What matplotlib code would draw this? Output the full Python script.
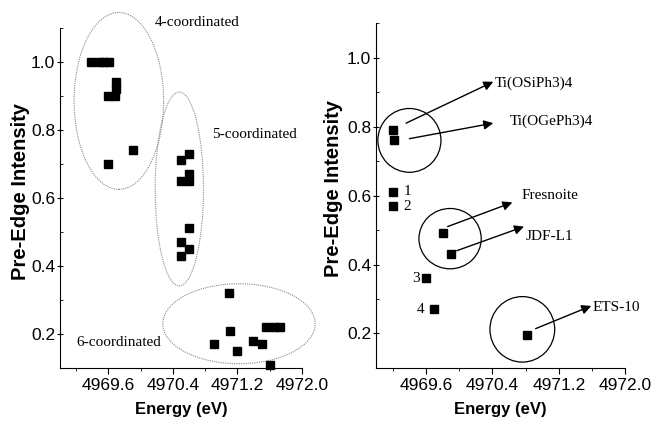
import matplotlib
matplotlib.use("Agg")
import matplotlib.pyplot as plt
from matplotlib.patches import Ellipse
from matplotlib.ticker import MultipleLocator, FormatStrFormatter

# left panel: pre-edge intensity vs energy by coordination
e4 = [4969.39, 4969.48, 4969.55, 4969.61, 4969.70, 4969.70, 4969.60, 4969.68, 4969.91, 4969.60]
i4 = [1.00, 1.00, 1.00, 1.00, 0.94, 0.92, 0.90, 0.90, 0.74, 0.70]
e5 = [4970.50, 4970.60, 4970.50, 4970.60, 4970.60, 4970.60, 4970.50, 4970.50, 4970.60]
i5 = [0.71, 0.73, 0.65, 0.67, 0.65, 0.51, 0.47, 0.43, 0.45]
e6 = [4971.09, 4971.11, 4970.91, 4971.20, 4971.40, 4971.50, 4971.56, 4971.65, 4971.73, 4971.61]
i6 = [0.32, 0.21, 0.17, 0.15, 0.18, 0.17, 0.22, 0.22, 0.22, 0.11]

# right panel: model compounds
names = ["Ti(OSiPh3)4", "Ti(OGePh3)4", "1", "2", "3", "4", "Fresnoite", "JDF-L1", "ETS-10"]
e_r = [4969.20, 4969.22, 4969.20, 4969.20, 4969.60, 4969.70, 4969.80, 4969.90, 4970.82]
i_r = [0.79, 0.76, 0.61, 0.57, 0.36, 0.27, 0.49, 0.43, 0.195]

xticks = [4969.6, 4970.4, 4971.2, 4972.0]
yticks = [0.2, 0.4, 0.6, 0.8, 1.0]

serif = "Liberation Serif"
sans = "Liberation Sans"
plt.rcParams['font.family'] = sans

fig = plt.figure(figsize=(6.52, 4.21), dpi=100)
ax1 = fig.add_axes([0.092, 0.126, 0.371, 0.808])
ax2 = fig.add_axes([0.577, 0.126, 0.382, 0.819])

for ax, lx in ((ax1, -0.125), (ax2, -0.135)):
    ax.set_xlim(4969.0, 4972.0)
    ax.set_ylim(0.1, 1.1)
    ax.spines['top'].set_visible(False)
    ax.spines['right'].set_visible(False)
    ax.set_xticks(xticks)
    ax.xaxis.set_minor_locator(MultipleLocator(0.4))
    ax.set_yticks(yticks)
    ax.yaxis.set_minor_locator(MultipleLocator(0.1))
    ax.xaxis.set_major_formatter(FormatStrFormatter('%.1f'))
    ax.tick_params(axis='x', which='major', direction='out', length=4, width=0.8, labelsize=12.5)
    ax.tick_params(axis='x', which='minor', direction='out', length=2, width=0.6)
    ax.tick_params(axis='y', which='major', direction='inout', length=5, width=0.8,
                   labelsize=12.5, pad=1)
    ax.tick_params(axis='y', which='minor', direction='in', length=2, width=0.6)
    ax.set_xlabel("Energy (eV)", fontsize=12, fontweight='bold', labelpad=6)
    ax.set_ylabel("Pre-Edge Intensity", fontsize=14.5, fontweight='bold')
    ax.yaxis.set_label_coords(lx, 0.52)

# left panel
ax1.plot(e4 + e5 + e6, i4 + i5 + i6, 's', color='black', markersize=6, clip_on=False)
ell_kw = dict(fill=False, edgecolor='#888888', linestyle=(0, (1, 1)), linewidth=0.8, clip_on=False)
ax1.add_patch(Ellipse((4969.73, 0.885), 1.11, 0.52, **ell_kw))
ax1.add_patch(Ellipse((4970.48, 0.626), 0.60, 0.57, **ell_kw))
ax1.add_patch(Ellipse((4971.22, 0.23), 1.89, 0.235, **ell_kw))
ax1.text(4970.17, 1.115, "4-coordinated", family=serif, fontsize=11, va='center')
ax1.text(4970.88, 0.785, "5-coordinated", family=serif, fontsize=11, va='center')
ax1.text(4969.20, 0.176, "6-coordinated", family=serif, fontsize=11, va='center')

# right panel
ax2.plot(e_r, i_r, 's', color='black', markersize=6, clip_on=False)
circ_kw = dict(fill=False, edgecolor='black', linewidth=0.9, clip_on=False)
ax2.add_patch(Ellipse((4969.40, 0.76), 0.76, 0.185, **circ_kw))
ax2.add_patch(Ellipse((4969.89, 0.475), 0.75, 0.175, **circ_kw))
ax2.add_patch(Ellipse((4970.76, 0.212), 0.78, 0.19, **circ_kw))

arrows = [
    ((4969.36, 0.81), (4970.41, 0.93), (4970.43, 0.925)),
    ((4969.40, 0.765), (4970.41, 0.81), (4970.61, 0.815)),
    ((4969.86, 0.51), (4970.64, 0.58), (4970.75, 0.60)),
    ((4969.97, 0.44), (4970.78, 0.51), (4970.80, 0.48)),
    ((4970.92, 0.214), (4971.59, 0.28), (4971.60, 0.275)),
]
for name, (tail, head, txt) in zip([names[0], names[1], names[6], names[7], names[8]], arrows):
    ax2.annotate("", xy=head, xytext=tail,
                 arrowprops=dict(arrowstyle='-|>', color='black', lw=1, mutation_scale=14,
                                 shrinkA=0, shrinkB=0))
    ax2.text(txt[0], txt[1], name, family=serif, fontsize=11, va='center', ha='left')

ax2.text(4969.33, 0.612, names[2], family=serif, fontsize=11, va='center', ha='left')
ax2.text(4969.33, 0.567, names[3], family=serif, fontsize=11, va='center', ha='left')
ax2.text(4969.52, 0.36, names[4], family=serif, fontsize=11, va='center', ha='right')
ax2.text(4969.58, 0.27, names[5], family=serif, fontsize=11, va='center', ha='right')

fig.savefig("out.png", dpi=100)
